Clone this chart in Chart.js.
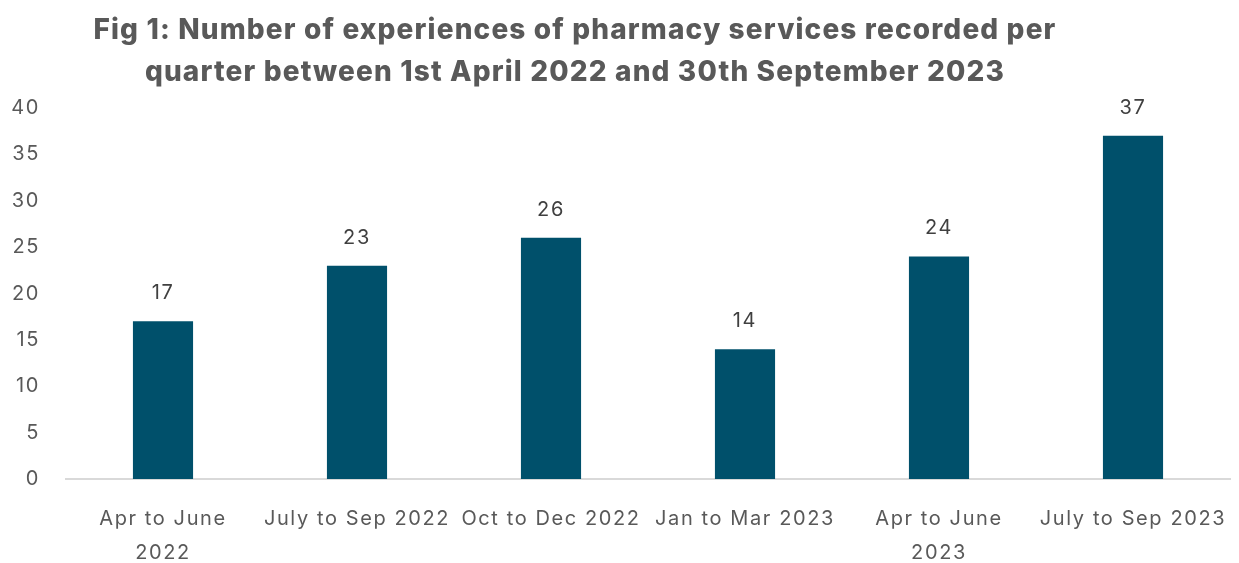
<!DOCTYPE html>
<html>
<head>
<meta charset="utf-8">
<script src="https://cdn.jsdelivr.net/npm/chart.js@4"></script>
<style>
    html, body { margin: 0; padding: 0; background: #fff; }
    #wrap { position: relative; width: 1239px; height: 563px; }
    #titulo {
        position: absolute; left: 75px; width: 1000px; top: 8px;
        text-align: center; font-family: 'Inter', sans-serif; font-weight: 800;
        font-size: 28px; line-height: 42px; color: #595959; letter-spacing: 1.15px;
    }
</style>
</head>
<body>
<div id="wrap">
    <div id="titulo">Fig 1: Number of experiences of pharmacy services recorded per<br>quarter between 1st April 2022 and 30th September 2023</div>
    <canvas id="grafico" width="1239" height="563"></canvas>
</div>
<script>
const trimestres = [
    ['Apr to June', '2022'],
    'July to Sep 2022',
    'Oct to Dec 2022',
    'Jan to Mar 2023',
    ['Apr to June', '2023'],
    'July to Sep 2023'
];
const experiencias = [17, 23, 26, 14, 24, 37];
const ticksY = [0, 5, 10, 15, 20, 25, 30, 35, 40];

const corBarra = '#00506B';
const corTexto = '#595959';
const espacoLetra = '1.6px';

// espaçamento de letra para imitar a fonte larga do original
const espacamento = {
    id: 'espacamento',
    beforeUpdate(chart) { chart.ctx.letterSpacing = espacoLetra; },
    beforeDraw(chart) { chart.ctx.letterSpacing = espacoLetra; }
};

// rótulos de valor em cima das barras
const rotulosBarra = {
    id: 'rotulosBarra',
    afterDatasetsDraw(chart) {
        const ctx = chart.ctx;
        const meta = chart.getDatasetMeta(0);
        ctx.save();
        ctx.font = '20px Inter, sans-serif';
        ctx.fillStyle = '#404040';
        ctx.textAlign = 'center';
        ctx.textBaseline = 'middle';
        meta.data.forEach((bar, i) => {
            ctx.fillText(String(experiencias[i]), bar.x, bar.y - 28);
        });
        ctx.restore();
    }
};

new Chart(document.getElementById('grafico'), {
    type: 'bar',
    data: {
        labels: trimestres,
        datasets: [{
            data: experiencias,
            backgroundColor: corBarra,
            barPercentage: 0.31,
            categoryPercentage: 1,
        }]
    },
    options: {
        responsive: false,
        animation: false,
        layout: { padding: { top: 108, right: 9, left: 0, bottom: 0 } },
        plugins: {
            legend: { display: false },
            tooltip: { enabled: false }
        },
        scales: {
            y: {
                min: 0, max: 40,
                afterFit: s => { s.width = 66; },
                afterBuildTicks: s => { s.ticks = ticksY.map(v => ({ value: v })); },
                border: { display: false },
                grid: { display: false, drawTicks: false },
                ticks: { padding: 26, color: corTexto, font: { family: 'Inter', size: 20 } }
            },
            x: {
                afterFit: s => { s.height = 84; s.paddingLeft = 0; s.paddingRight = 0; },
                border: { display: true, color: '#d9d9d9', width: 2 },
                grid: { display: false, drawTicks: false },
                ticks: {
                    padding: 23, color: corTexto, maxRotation: 0, autoSkip: false,
                    font: { family: 'Inter', size: 20, lineHeight: 1.7 }
                }
            }
        }
    },
    plugins: [espacamento, rotulosBarra]
});
</script>
</body>
</html>
